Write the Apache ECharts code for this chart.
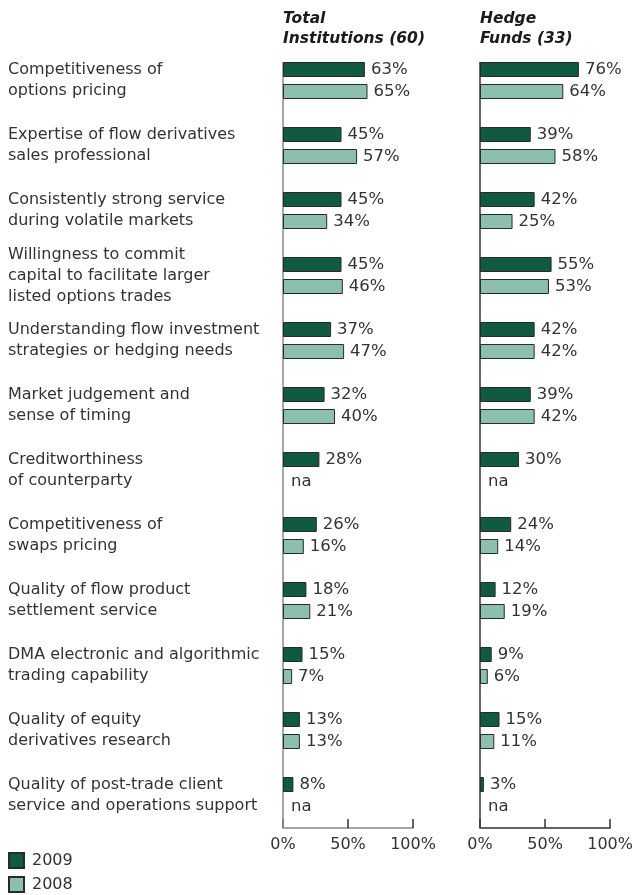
<!DOCTYPE html>
<html>
<head>
<meta charset="utf-8">
<script src="https://cdn.jsdelivr.net/npm/echarts@6/dist/echarts.min.js"></script>
<style>
  html, body { margin: 0; padding: 0; background: #fff; }
  #chart { width: 636px; height: 895px; }
</style>
</head>
<body>
<div id="chart"></div>
<script>
// Survey criteria (top to bottom)
const categories = [
  'Competitiveness of\noptions pricing',
  'Expertise of flow derivatives\nsales professional',
  'Consistently strong service\nduring volatile markets',
  'Willingness to commit\ncapital to facilitate larger\nlisted options trades',
  'Understanding flow investment\nstrategies or hedging needs',
  'Market judgement and\nsense of timing',
  'Creditworthiness\nof counterparty',
  'Competitiveness of\nswaps pricing',
  'Quality of flow product\nsettlement service',
  'DMA electronic and algorithmic\ntrading capability',
  'Quality of equity\nderivatives research',
  'Quality of post-trade client\nservice and operations support'
];

// Percentages; null = not asked that year ("na")
const total2009 = [63, 45, 45, 45, 37, 32, 28, 26, 18, 15, 13, 8];
const total2008 = [65, 57, 34, 46, 47, 40, null, 16, 21, 7, 13, null];
const hedge2009 = [76, 39, 42, 55, 42, 39, 30, 24, 12, 9, 15, 3];
const hedge2008 = [64, 58, 25, 53, 42, 42, null, 14, 19, 6, 11, null];

const panelTitles = ['Total\nInstitutions (60)', 'Hedge\nFunds (33)'];
const seriesNames = ['2009', '2008'];
const xTicks = [0, 50, 100];

const FONT = '"DejaVu Sans", Verdana, sans-serif';
const TEXT = '#333';
const DARK = '#0f5a41';
const LIGHT = '#8cbfad';
const BAR_W = 15;
const BAR_GAP_PX = 7;
const AXIS_COLORS = ['#888', '#333'];

const chart = echarts.init(document.getElementById('chart'), null, { renderer: 'canvas' });

const grids = [
  { left: 283, width: 130, top: 48, height: 780 },
  { left: 480, width: 131, top: 48, height: 780 }
];

function xAxis(i) {
  return {
    type: 'value', gridIndex: i, min: xTicks[0], max: xTicks[xTicks.length - 1], interval: 50,
    axisLine: { show: true, lineStyle: { color: AXIS_COLORS[i], width: 1.5 } },
    axisTick: { show: true, inside: true, length: 9, lineStyle: { color: '#333', width: 1.5 } },
    splitLine: { show: false },
    axisLabel: {
      formatter: '{value}%', fontFamily: FONT, fontSize: 16, color: TEXT, margin: 9
    }
  };
}

// The vertical axis line is drawn separately so it starts at the first bar
function yAxis(i, showLabels) {
  return {
    type: 'category', gridIndex: i, data: categories, inverse: true,
    axisLine: { show: false },
    axisTick: { show: false },
    axisLabel: {
      show: showLabels, align: 'left', margin: 275,
      fontFamily: FONT, fontSize: 16, color: TEXT, lineHeight: 21
    }
  };
}

function barSeries(name, data, axisIdx, color) {
  return {
    name: name, type: 'bar', xAxisIndex: axisIdx, yAxisIndex: axisIdx,
    data: data, barWidth: BAR_W, barGap: (BAR_GAP_PX / BAR_W * 100) + '%',
    itemStyle: { color: color, borderColor: '#2a2a2a', borderWidth: 1 },
    label: {
      show: true, position: 'right', distance: 6, formatter: '{c}%',
      fontFamily: FONT, fontSize: 16.5, color: TEXT
    },
    z: 3, silent: true, animation: false
  };
}

// "na" markers for years without a value, placed where the 2008 bar would be
function naSeries(values, axisIdx) {
  const pts = [];
  values.forEach(function (v, k) { if (v === null) pts.push([0, categories[k]]); });
  return {
    type: 'scatter', xAxisIndex: axisIdx, yAxisIndex: axisIdx,
    data: pts, symbolSize: 0,
    itemStyle: { opacity: 1 },
    label: {
      show: true, position: 'right', distance: 8, offset: [0, (BAR_W + BAR_GAP_PX) / 2], formatter: 'na',
      fontFamily: FONT, fontSize: 16.5, color: TEXT, opacity: 1
    },
    silent: true, animation: false
  };
}

function legendItem(name, top) {
  return {
    data: [name], left: 8, top: top, padding: 0,
    itemWidth: 15, itemHeight: 15, icon: 'rect',
    textStyle: { fontFamily: FONT, fontSize: 16, color: TEXT, padding: [0, 0, 0, 3] },
    selectedMode: false
  };
}

const titleStyle = {
  fontFamily: FONT, fontSize: 15.5, fontWeight: 'bold', fontStyle: 'italic',
  color: '#1a1a1a', lineHeight: 20
};

const option = {
  backgroundColor: '#fff',
  animation: false,
  title: [
    { text: panelTitles[0], left: 283, top: 9, padding: 0, textStyle: titleStyle },
    { text: panelTitles[1], left: 480, top: 9, padding: 0, textStyle: titleStyle }
  ],
  legend: [legendItem(seriesNames[0], 852), legendItem(seriesNames[1], 876)],
  grid: grids,
  xAxis: [xAxis(0), xAxis(1)],
  yAxis: [yAxis(0, true), yAxis(1, false)],
  series: [
    barSeries(seriesNames[0], total2009, 0, DARK),
    barSeries(seriesNames[1], total2008, 0, LIGHT),
    barSeries(seriesNames[0], hedge2009, 1, DARK),
    barSeries(seriesNames[1], hedge2008, 1, LIGHT),
    naSeries(total2008, 0),
    naSeries(hedge2008, 1)
  ]
};

chart.setOption(option);

// Vertical baseline per panel: from the top of the first bar pair down to the x axis
const lines = [0, 1].map(function (i) {
  const finder = { xAxisIndex: i, yAxisIndex: i };
  const first = chart.convertToPixel(finder, [0, categories[0]]);
  const second = chart.convertToPixel(finder, [0, categories[1]]);
  const last = chart.convertToPixel(finder, [0, categories[categories.length - 1]]);
  const band = second[1] - first[1];
  const pairHalf = BAR_W + BAR_GAP_PX / 2;
  return {
    type: 'line', silent: true, z: 2,
    shape: { x1: first[0], y1: first[1] - pairHalf, x2: first[0], y2: last[1] + band / 2 },
    style: { stroke: AXIS_COLORS[i], lineWidth: 1.5 }
  };
});
chart.setOption({ graphic: lines });
</script>
</body>
</html>
